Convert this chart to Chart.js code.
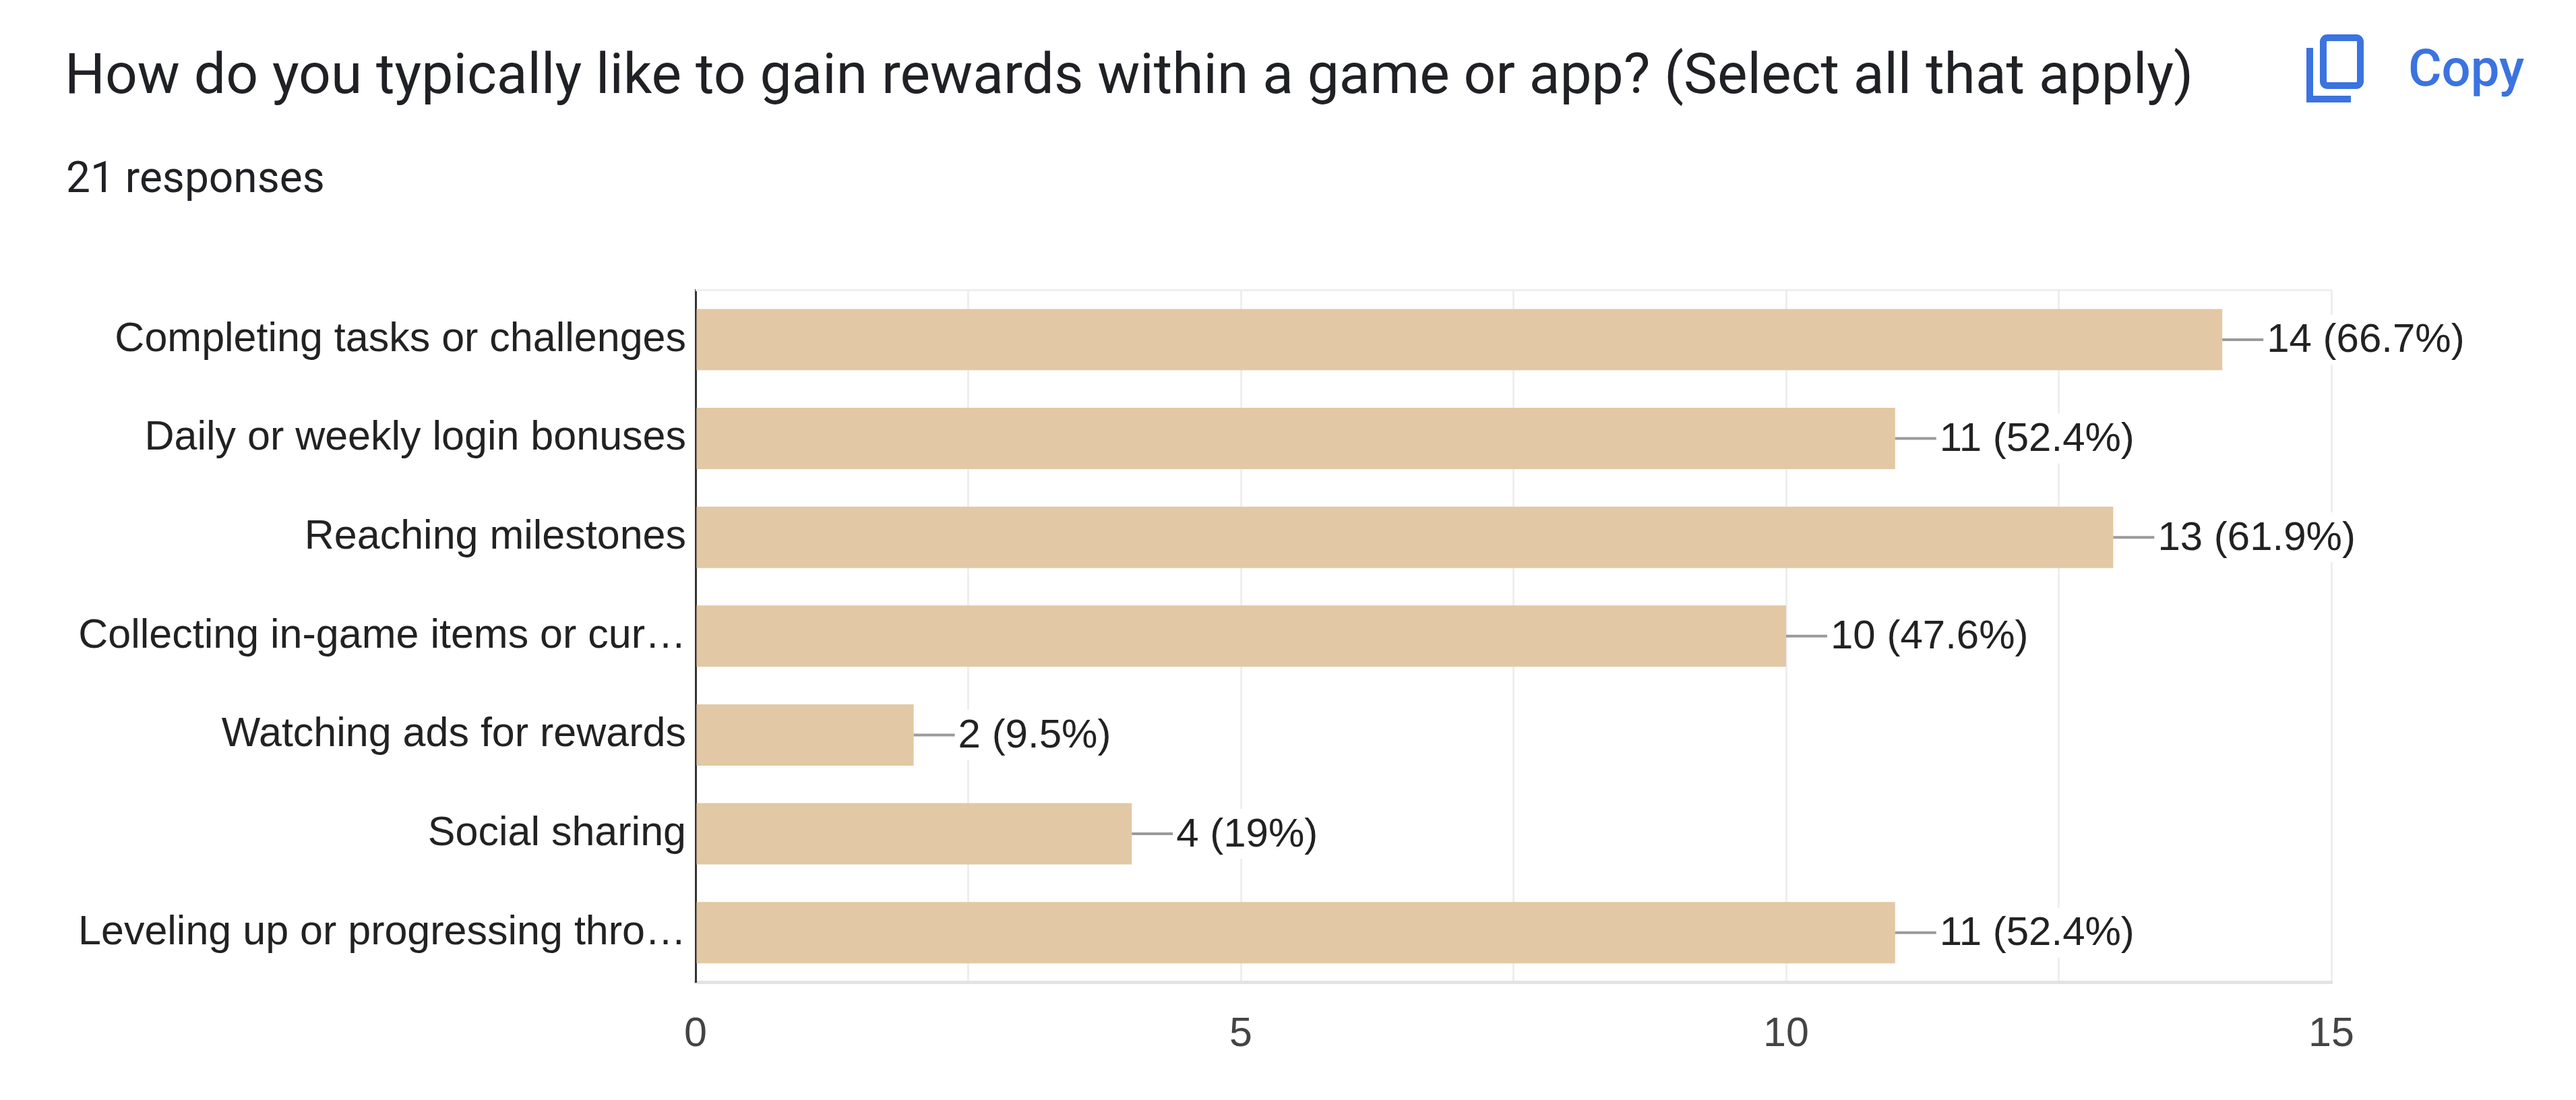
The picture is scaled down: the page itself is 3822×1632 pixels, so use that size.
<!DOCTYPE html>
<html>
<head>
<meta charset="utf-8">
<script src="https://cdn.jsdelivr.net/npm/chart.js@4.4.1/dist/chart.umd.min.js"></script>
<style>
  html, body { margin: 0; padding: 0; background: #fff; }
  body { width: 3822px; height: 1632px; position: relative; overflow: hidden; font-family: Roboto, sans-serif; }
  .title { position: absolute; left: 96px; top: 68px; font-size: 84px; line-height: 1; color: #202124; white-space: nowrap; }
  .count { position: absolute; left: 98px; top: 232px; font-size: 64px; line-height: 1; color: #202124; white-space: nowrap; }
  .copy-icon { position: absolute; left: 3400px; top: 40px; }
  .copy { position: absolute; left: 3573px; top: 63px; font-size: 76px; font-weight: 500; line-height: 1; color: #3b73e0; }
  .chart-box { position: absolute; left: 0; top: 380px; width: 3822px; height: 1252px; }
</style>
</head>
<body>
<div class="title">How do you typically like to gain rewards within a game or app? (Select all that apply)</div>
<div class="count">21 responses</div>
<svg class="copy-icon" width="120" height="120" viewBox="3400 40 120 120">
  <rect x="3447" y="56" width="55" height="71" rx="6" fill="none" stroke="#3b73e0" stroke-width="10"/>
  <path d="M3427 71 V147 H3488" fill="none" stroke="#3b73e0" stroke-width="10"/>
</svg>
<div class="copy">Copy</div>
<div class="chart-box"><canvas id="chart"></canvas></div>

<script>
const categories = [
  'Completing tasks or challenges',
  'Daily or weekly login bonuses',
  'Reaching milestones',
  'Collecting in-game items or cur\u2026',
  'Watching ads for rewards',
  'Social sharing',
  'Leveling up or progressing thro\u2026'
]
const counts = [14, 11, 13, 10, 2, 4, 11]
const percents = ['66.7%', '52.4%', '61.9%', '47.6%', '9.5%', '19%', '52.4%']
const xTicks = [0, 5, 10, 15]

const labelFont = "'Liberation Sans', Arial, sans-serif"

// faint line along the top of the plot
const topLine = {
  id: 'topLine',
  beforeDatasetsDraw(chart) {
    const {ctx, chartArea} = chart
    ctx.save()
    ctx.strokeStyle = '#eeeeee'
    ctx.lineWidth = 3
    ctx.beginPath()
    ctx.moveTo(chartArea.left, chartArea.top)
    ctx.lineTo(chartArea.right, chartArea.top)
    ctx.stroke()
    ctx.restore()
  }
}

// leader line + "n (p%)" text at the end of each bar
const valueLabels = {
  id: 'valueLabels',
  afterDatasetsDraw(chart) {
    const ctx = chart.ctx
    const meta = chart.getDatasetMeta(0)
    ctx.save()
    ctx.font = '60px ' + labelFont
    ctx.textBaseline = 'middle'
    ctx.textAlign = 'left'
    meta.data.forEach((bar, i) => {
      const x = bar.x, y = bar.y
      ctx.strokeStyle = '#9a9a9a'
      ctx.lineWidth = 4
      ctx.beginPath()
      ctx.moveTo(x, y)
      ctx.lineTo(x + 61, y)
      ctx.stroke()
      const text = counts[i] + ' (' + percents[i] + ')'
      const w = ctx.measureText(text).width
      ctx.fillStyle = '#fff'
      ctx.fillRect(x + 65, y - 37, w + 4, 74)
      ctx.fillStyle = '#222'
      ctx.fillText(text, x + 66, y + 2)
    })
    ctx.restore()
  }
}

new Chart(document.getElementById('chart'), {
  type: 'bar',
  data: {
    labels: categories,
    datasets: [{
      data: counts,
      backgroundColor: '#e2c8a4',
      borderWidth: 0,
      barPercentage: 0.62,
      categoryPercentage: 1
    }]
  },
  options: {
    indexAxis: 'y',
    responsive: true,
    maintainAspectRatio: false,
    animation: false,
    layout: { padding: { left: 0, right: 363, top: 32, bottom: 0 } },
    plugins: { legend: { display: false }, tooltip: { enabled: false } },
    scales: {
      x: {
        min: xTicks[0],
        max: xTicks[xTicks.length - 1],
        ticks: {
          stepSize: 2.5,
          autoSkip: false,
          maxRotation: 0,
          padding: 42,
          color: '#444',
          font: { size: 61, family: labelFont },
          callback: v => xTicks.includes(v) ? String(v) : ''
        },
        grid: { color: '#eeeeee', lineWidth: 3, drawTicks: false },
        border: { display: true, color: '#e3e3e3', width: 5 },
        afterFit: s => { s.height = 175 }
      },
      y: {
        ticks: {
          padding: 14,
          color: '#222',
          font: { size: 61, family: labelFont }
        },
        grid: { display: false, drawTicks: false },
        border: { display: true, color: '#333', width: 3 },
        afterFit: s => { s.width = 1032 }
      }
    }
  },
  plugins: [topLine, valueLabels]
})
</script>
</body>
</html>
